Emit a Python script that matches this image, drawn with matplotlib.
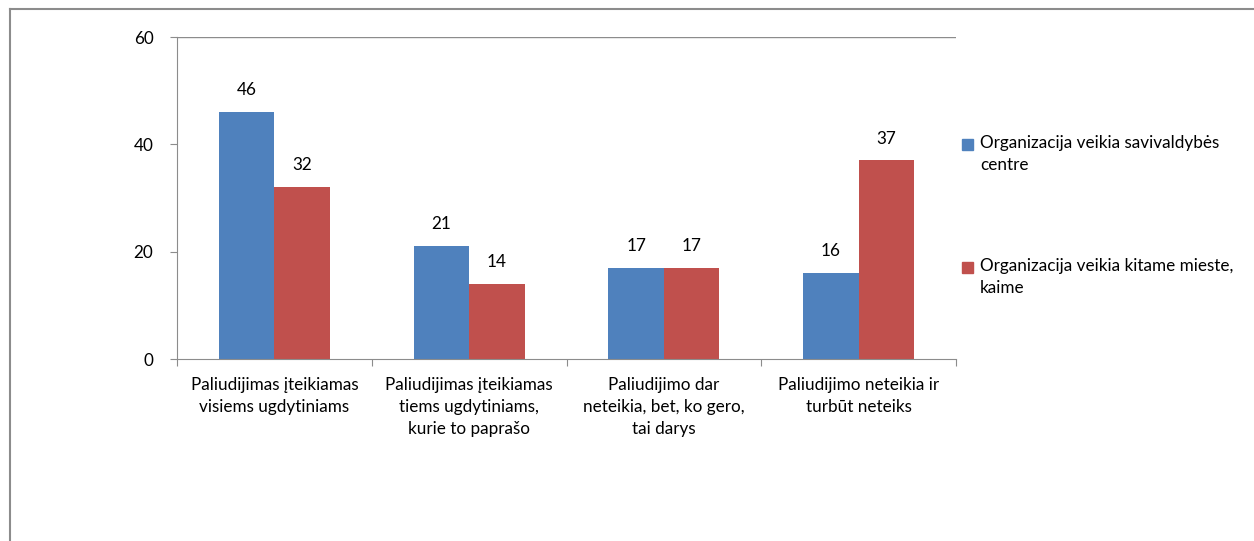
import matplotlib.pyplot as plt
import numpy as np
from matplotlib.lines import Line2D

plt.rcParams['font.family'] = ['Lato', 'DejaVu Sans']

categories = [
    'Paliudijimas įteikiamas\nvisiems ugdytiniams',
    'Paliudijimas įteikiamas\ntiems ugdytiniams,\nkurie to paprašo',
    'Paliudijimo dar\nneteikia, bet, ko gero,\ntai darys',
    'Paliudijimo neteikia ir\nturbūt neteiks',
]
series_names = ['Organizacija veikia savivaldybės\ncentre',
                'Organizacija veikia kitame mieste,\nkaime']
centre = [46, 21, 17, 16]
other = [32, 14, 17, 37]
colors = ['#4F81BD', '#C0504D']
yticks = [0, 20, 40, 60]

FS = 12.3
W, H = 1254, 541
fig = plt.figure(figsize=(W / 100, H / 100), dpi=100)
ax = fig.add_axes([177 / W, 1 - 359 / H, (956 - 177) / W, (359 - 37) / H])

x = np.arange(len(categories))
width = 0.285
for i, (vals, col) in enumerate(zip([centre, other], colors)):
    pos = x + (i - 0.5) * width
    ax.bar(pos, vals, width=width, color=col, edgecolor='none', zorder=2)
    for px, v in zip(pos, vals):
        ax.annotate(str(v), (px, v), xytext=(0, 10), textcoords='offset points',
                    ha='center', va='bottom', fontsize=FS)

ax.set_xlim(-0.5, len(categories) - 0.5)
ax.set_ylim(0, 60)
ax.set_yticks(yticks)
ax.set_yticklabels([str(t) for t in yticks], fontsize=FS)
ax.axhline(60, color='#8c8c8c', lw=1, zorder=1)
ax.set_xticks(np.arange(len(categories) + 1) - 0.5)
ax.set_xticklabels([])
ax.set_xticks(x, minor=True)
ax.set_xticklabels(categories, minor=True, fontsize=FS, linespacing=1.45)
ax.tick_params(axis='x', which='minor', length=0, pad=13)
ax.tick_params(axis='x', which='major', length=5, color='#8c8c8c', direction='out')
ax.tick_params(axis='y', length=5, color='#8c8c8c', direction='out', pad=12)
for s in ['top', 'right']:
    ax.spines[s].set_visible(False)
for s in ['left', 'bottom']:
    ax.spines[s].set_color('#8c8c8c')

# legend drawn as figure text
leg_y = [145, 268]
for name, col, yy in zip(series_names, colors, leg_y):
    fig.patches.append(plt.Rectangle((962 / W, 1 - (yy + 5) / H), 11 / W, 11 / H,
                                     transform=fig.transFigure, color=col))
    fig.text(980 / W, 1 - (yy - 10) / H, name, fontsize=FS, va='top', ha='left',
             linespacing=1.45)

# outer chart border
fig.add_artist(Line2D([10 / W, 1], [1 - 9 / H, 1 - 9 / H], color='#8c8c8c', lw=1.5,
                      transform=fig.transFigure))
fig.add_artist(Line2D([10 / W, 10 / W], [0, 1 - 9 / H], color='#8c8c8c', lw=1.5,
                      transform=fig.transFigure))

fig.savefig('out.png', dpi=100)
